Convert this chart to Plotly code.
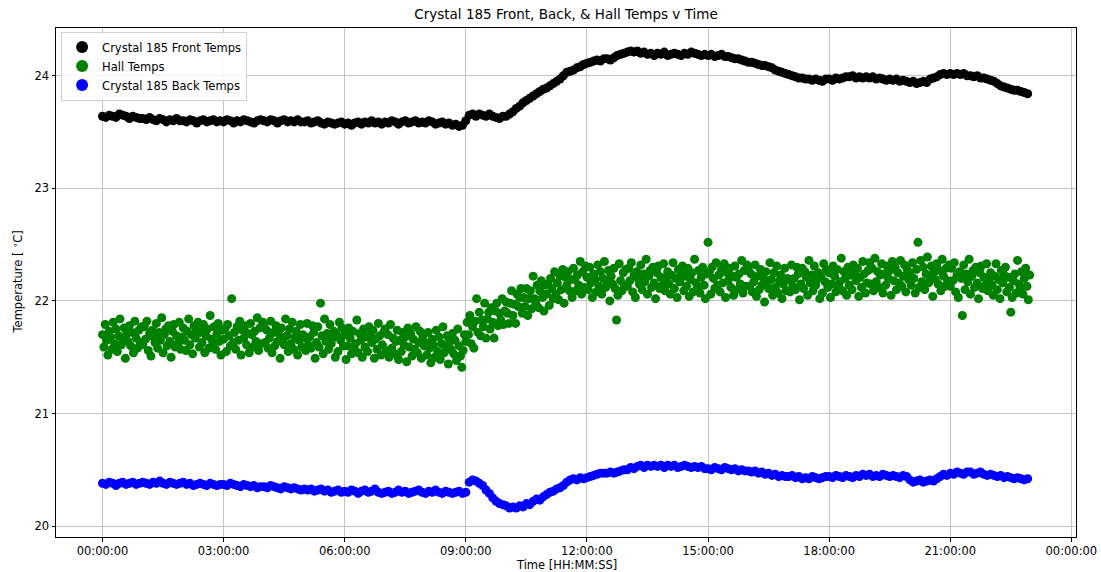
import pandas as pd
import plotly.graph_objects as go

# ---------------- data ----------------
front_temps = [
    23.64, 23.63, 23.65, 23.64, 23.63, 23.66, 23.65, 23.64, 23.62, 23.64, 23.63, 23.62,
    23.62, 23.61, 23.63, 23.61, 23.60, 23.62, 23.61, 23.59, 23.61, 23.60, 23.62, 23.60,
    23.60, 23.59, 23.61, 23.60, 23.58, 23.60, 23.61, 23.59, 23.60, 23.61, 23.59, 23.60,
    23.59, 23.61, 23.60, 23.58, 23.60, 23.59, 23.61, 23.60, 23.59, 23.58, 23.60, 23.61,
    23.60, 23.59, 23.61, 23.60, 23.58, 23.60, 23.61, 23.59, 23.60, 23.59, 23.61, 23.59,
    23.59, 23.60, 23.58, 23.59, 23.60, 23.58, 23.57, 23.59, 23.58, 23.57, 23.58, 23.59,
    23.57, 23.58, 23.56, 23.58, 23.59, 23.57, 23.59, 23.58, 23.60, 23.58, 23.59, 23.57,
    23.59, 23.58, 23.60, 23.59, 23.57, 23.59, 23.60, 23.58, 23.59, 23.60, 23.58, 23.59,
    23.58, 23.60, 23.59, 23.57, 23.58, 23.59, 23.57, 23.58, 23.56, 23.57, 23.55, 23.56,
    23.60, 23.65, 23.66, 23.64, 23.66, 23.65, 23.64, 23.66, 23.64, 23.63, 23.62, 23.64,
    23.64, 23.66, 23.68, 23.71, 23.73, 23.76, 23.78, 23.80, 23.82, 23.84, 23.86, 23.88,
    23.89, 23.91, 23.93, 23.95, 23.97, 24.00, 24.03, 24.04, 24.05, 24.07, 24.08, 24.10,
    24.11, 24.12, 24.13, 24.14, 24.13, 24.15, 24.15, 24.14, 24.16, 24.18, 24.19, 24.20,
    24.21, 24.22, 24.21, 24.22, 24.20, 24.21, 24.19, 24.20, 24.18, 24.20, 24.19, 24.21,
    24.18, 24.19, 24.20, 24.19, 24.18, 24.20, 24.19, 24.21, 24.20, 24.19, 24.18, 24.19,
    24.18, 24.19, 24.17, 24.18, 24.19, 24.17, 24.17, 24.16, 24.15, 24.15, 24.14, 24.13,
    24.12, 24.12, 24.11, 24.10, 24.09, 24.09, 24.08, 24.07, 24.05, 24.04, 24.03, 24.02,
    24.01, 24.00, 23.99, 23.98, 23.98, 23.97, 23.97, 23.96, 23.97, 23.96, 23.95, 23.97,
    23.97, 23.96, 23.98, 23.97, 23.98, 23.99, 23.99, 24.00, 23.98, 23.99, 23.98, 23.99,
    23.98, 23.99, 23.97, 23.98, 23.97, 23.96, 23.97, 23.96, 23.97, 23.95, 23.96, 23.95,
    23.94, 23.95, 23.93, 23.94, 23.95, 23.94, 23.97, 23.98, 23.99, 24.01, 24.02, 24.01,
    24.02, 24.01, 24.02, 24.01, 24.02, 24.00, 24.00, 23.99, 24.00, 23.98, 23.98, 23.97,
    23.96, 23.95, 23.93, 23.91, 23.90, 23.89, 23.88, 23.87, 23.87, 23.86, 23.85, 23.84,
]

back_temps = [
    20.38, 20.37, 20.39, 20.38, 20.36, 20.38, 20.39, 20.37, 20.38, 20.39, 20.37, 20.38,
    20.39, 20.38, 20.37, 20.39, 20.38, 20.40, 20.38, 20.37, 20.39, 20.38, 20.37, 20.38,
    20.39, 20.37, 20.38, 20.36, 20.37, 20.38, 20.37, 20.36, 20.38, 20.37, 20.36, 20.37,
    20.37, 20.36, 20.38, 20.37, 20.36, 20.35, 20.37, 20.36, 20.35, 20.36, 20.34, 20.35,
    20.35, 20.34, 20.36, 20.35, 20.34, 20.33, 20.35, 20.34, 20.33, 20.34, 20.33, 20.32,
    20.33, 20.32, 20.33, 20.31, 20.32, 20.33, 20.31, 20.32, 20.30, 20.31, 20.32, 20.30,
    20.31, 20.30, 20.32, 20.31, 20.29, 20.31, 20.32, 20.30, 20.31, 20.33, 20.30, 20.29,
    20.30, 20.31, 20.29, 20.30, 20.32, 20.30, 20.31, 20.29, 20.30, 20.31, 20.32, 20.30,
    20.29, 20.31, 20.30, 20.32, 20.30, 20.29, 20.31, 20.30, 20.29, 20.30, 20.31, 20.29,
    20.30, 20.39, 20.41, 20.40, 20.38, 20.36, 20.32, 20.29, 20.25, 20.22, 20.20, 20.19,
    20.18, 20.16, 20.17, 20.16, 20.18, 20.17, 20.20, 20.19, 20.22, 20.24, 20.23, 20.26,
    20.28, 20.30, 20.31, 20.33, 20.34, 20.36, 20.39, 20.41, 20.42, 20.41, 20.43, 20.42,
    20.43, 20.44, 20.45, 20.46, 20.47, 20.47, 20.47, 20.48, 20.47, 20.48, 20.49, 20.50,
    20.50, 20.52, 20.51, 20.53, 20.54, 20.52, 20.54, 20.53, 20.54, 20.53, 20.54, 20.52,
    20.54, 20.53, 20.54, 20.52, 20.53, 20.54, 20.53, 20.52, 20.53, 20.52, 20.53, 20.51,
    20.51, 20.50, 20.52, 20.51, 20.50, 20.52, 20.51, 20.50, 20.51, 20.49, 20.50, 20.49,
    20.49, 20.48, 20.49, 20.47, 20.48, 20.46, 20.47, 20.45, 20.46, 20.44, 20.45, 20.44,
    20.44, 20.45, 20.43, 20.44, 20.42, 20.43, 20.42, 20.44, 20.43, 20.42, 20.43, 20.44,
    20.44, 20.43, 20.45, 20.44, 20.43, 20.45, 20.44, 20.43, 20.45, 20.44, 20.46, 20.45,
    20.46, 20.44, 20.45, 20.44, 20.46, 20.45, 20.44, 20.45, 20.44, 20.43, 20.45, 20.44,
    20.41, 20.39, 20.40, 20.41, 20.39, 20.40, 20.41, 20.40, 20.42, 20.44, 20.46, 20.45,
    20.47, 20.46, 20.48, 20.47, 20.46, 20.48, 20.48, 20.46, 20.47, 20.48, 20.46, 20.45,
    20.46, 20.45, 20.44, 20.45, 20.43, 20.44, 20.43, 20.42, 20.43, 20.42, 20.41, 20.42,
]

hall_temps = [
    21.70, 21.59, 21.79, 21.65, 21.52, 21.73, 21.68, 21.57, 21.81, 21.62, 21.75, 21.55, 21.69, 21.84, 21.61,
    21.66, 21.76, 21.49, 21.71, 21.64, 21.78, 21.60, 21.72, 21.54, 21.82, 21.67, 21.58, 21.74, 21.63, 21.77,
    21.61, 21.77, 21.66, 21.82, 21.56, 21.71, 21.51, 21.74, 21.68, 21.63, 21.80, 21.58, 21.72, 21.65, 21.85,
    21.54, 21.70, 21.75, 21.60, 21.78, 21.64, 21.50, 21.73, 21.79, 21.59, 21.69, 21.62, 21.81, 21.57, 21.68,
    21.76, 21.65, 21.56, 21.73, 21.84, 21.61, 21.70, 21.53, 21.78, 21.67, 21.74, 21.81, 21.59, 21.72, 21.63,
    21.79, 21.54, 21.69, 21.75, 21.58, 21.87, 21.66, 21.62, 21.77, 21.57, 21.71, 21.80, 21.64, 21.52, 21.74,
    21.66, 21.75, 21.55, 21.79, 21.69, 21.60, 22.02, 21.63, 21.72, 21.57, 21.77, 21.65, 21.82, 21.52, 21.74,
    21.67, 21.78, 21.61, 21.71, 21.54, 21.80, 21.70, 21.59, 21.73, 21.64, 21.85, 21.56, 21.76, 21.62, 21.81,
    21.77, 21.63, 21.74, 21.58, 21.67, 21.82, 21.54, 21.72, 21.60, 21.78, 21.64, 21.71, 21.49, 21.76, 21.66,
    21.61, 21.84, 21.69, 21.55, 21.75, 21.62, 21.81, 21.57, 21.68, 21.73, 21.52, 21.65, 21.79, 21.59, 21.70,
    21.67, 21.56, 21.80, 21.61, 21.68, 21.58, 21.78, 21.72, 21.49, 21.63, 21.77, 21.59, 21.98, 21.69, 21.53,
    21.84, 21.64, 21.71, 21.57, 21.79, 21.62, 21.67, 21.73, 21.50, 21.70, 21.55, 21.81, 21.65, 21.76, 21.60,
    21.70, 21.48, 21.60, 21.76, 21.67, 21.53, 21.73, 21.58, 21.62, 21.83, 21.54, 21.71, 21.65, 21.50, 21.75,
    21.59, 21.68, 21.55, 21.77, 21.70, 21.63, 21.74, 21.49, 21.66, 21.57, 21.80, 21.69, 21.52, 21.61, 21.72,
    21.75, 21.56, 21.70, 21.50, 21.79, 21.58, 21.67, 21.53, 21.64, 21.74, 21.48, 21.65, 21.55, 21.72, 21.61,
    21.68, 21.46, 21.76, 21.59, 21.71, 21.51, 21.66, 21.57, 21.77, 21.54, 21.63, 21.73, 21.49, 21.69, 21.60,
    21.63, 21.52, 21.72, 21.58, 21.45, 21.66, 21.61, 21.50, 21.74, 21.55, 21.68, 21.48, 21.62, 21.77, 21.54,
    21.59, 21.69, 21.44, 21.64, 21.57, 21.71, 21.53, 21.65, 21.47, 21.75, 21.60, 21.51, 21.41, 21.56, 21.70,
    21.64, 21.81, 21.70, 21.87, 21.62, 21.77, 21.58, 21.82, 22.02, 21.72, 21.90, 21.69, 21.83, 21.77, 21.98,
    21.67, 21.84, 21.90, 21.75, 21.94, 21.81, 21.67, 21.91, 21.98, 21.78, 21.89, 21.83, 22.02, 21.79, 21.91,
    21.99, 21.89, 21.80, 21.98, 22.09, 21.87, 21.97, 21.80, 22.06, 21.95, 22.03, 22.11, 21.89, 22.03, 21.95,
    22.11, 21.87, 22.02, 22.09, 21.93, 22.22, 22.02, 21.98, 22.14, 21.94, 22.09, 22.18, 22.03, 21.91, 22.14,
    22.06, 22.15, 21.96, 22.20, 22.11, 22.02, 22.26, 22.06, 22.16, 22.01, 22.22, 22.10, 22.28, 21.98, 22.21,
    22.14, 22.26, 22.09, 22.19, 22.03, 22.29, 22.19, 22.09, 22.23, 22.14, 22.35, 22.06, 22.26, 22.12, 22.31,
    22.21, 22.10, 22.30, 22.16, 22.03, 22.24, 22.19, 22.08, 22.32, 22.13, 22.26, 22.06, 22.20, 22.35, 22.12,
    22.17, 22.27, 22.00, 22.22, 22.15, 22.29, 22.11, 21.83, 22.05, 22.33, 22.18, 22.09, 22.25, 22.14, 22.28,
    22.13, 22.29, 22.18, 22.34, 22.08, 22.23, 22.03, 22.26, 22.20, 22.15, 22.32, 22.10, 22.24, 22.17, 22.37,
    22.06, 22.22, 22.27, 22.12, 22.30, 22.16, 22.02, 22.25, 22.31, 22.11, 22.21, 22.14, 22.33, 22.09, 22.20,
    22.26, 22.15, 22.06, 22.23, 22.34, 22.11, 22.20, 22.03, 22.28, 22.17, 22.24, 22.31, 22.09, 22.22, 22.13,
    22.29, 22.04, 22.19, 22.25, 22.08, 22.37, 22.16, 22.12, 22.27, 22.07, 22.21, 22.30, 22.14, 22.02, 22.24,
    22.52, 22.26, 22.06, 22.30, 22.20, 22.11, 22.34, 22.14, 22.23, 22.08, 22.28, 22.16, 22.33, 22.03, 22.25,
    22.18, 22.29, 22.12, 22.22, 22.05, 22.31, 22.21, 22.10, 22.24, 22.15, 22.36, 22.07, 22.27, 22.13, 22.32,
    22.27, 22.13, 22.24, 22.08, 22.17, 22.32, 22.04, 22.22, 22.10, 22.28, 22.14, 22.21, 21.99, 22.26, 22.16,
    22.11, 22.34, 22.19, 22.05, 22.25, 22.12, 22.31, 22.07, 22.18, 22.23, 22.02, 22.15, 22.29, 22.09, 22.20,
    22.19, 22.08, 22.32, 22.13, 22.20, 22.10, 22.30, 22.24, 22.01, 22.15, 22.29, 22.11, 22.26, 22.21, 22.05,
    22.36, 22.16, 22.23, 22.09, 22.31, 22.14, 22.19, 22.25, 22.02, 22.22, 22.07, 22.33, 22.17, 22.28, 22.12,
    22.25, 22.03, 22.15, 22.31, 22.22, 22.08, 22.28, 22.13, 22.17, 22.38, 22.09, 22.26, 22.20, 22.05, 22.30,
    22.14, 22.23, 22.10, 22.32, 22.25, 22.18, 22.29, 22.04, 22.21, 22.12, 22.35, 22.24, 22.07, 22.16, 22.27,
    22.34, 22.15, 22.29, 22.09, 22.38, 22.17, 22.26, 22.12, 22.23, 22.33, 22.07, 22.24, 22.14, 22.31, 22.20,
    22.27, 22.05, 22.35, 22.18, 22.30, 22.10, 22.25, 22.16, 22.36, 22.13, 22.22, 22.32, 22.08, 22.28, 22.19,
    22.25, 22.14, 22.34, 22.20, 22.07, 22.28, 22.52, 22.12, 22.36, 22.17, 22.30, 22.10, 22.24, 22.39, 22.16,
    22.21, 22.31, 22.04, 22.26, 22.19, 22.33, 22.15, 22.27, 22.09, 22.37, 22.22, 22.13, 22.29, 22.18, 22.32,
    22.13, 22.29, 22.18, 22.34, 22.08, 22.23, 22.03, 22.26, 22.20, 21.87, 22.32, 22.10, 22.24, 22.17, 22.37,
    22.06, 22.22, 22.27, 22.12, 22.30, 22.16, 22.02, 22.25, 22.31, 22.11, 22.21, 22.14, 22.33, 22.09, 22.20,
    22.25, 22.14, 22.05, 22.22, 22.33, 22.10, 22.19, 22.02, 22.27, 22.16, 22.23, 22.30, 22.08, 22.21, 22.12,
    21.90, 22.03, 22.18, 22.24, 22.07, 22.36, 22.15, 22.11, 22.26, 22.06, 22.20, 22.29, 22.13, 22.01, 22.23,
]

start_time = "2024-01-01 00:00:00"
crystal_step = "5min"   # sampling interval of the crystal sensors
hall_step = "2min"      # sampling interval of the hall sensor

series_names = ["Crystal 185 Front Temps", "Hall Temps", "Crystal 185 Back Temps"]
tick_labels_fmt = "%H:%M:%S"

# ---------------- figure ----------------
t_crystal = pd.date_range(start_time, periods=len(front_temps), freq=crystal_step)
t_hall = pd.date_range(start_time, periods=len(hall_temps), freq=hall_step)

fig = go.Figure()
fig.add_trace(go.Scatter(x=t_crystal, y=front_temps, mode="markers", name=series_names[0],
                         marker=dict(color="black", size=9, line=dict(width=0))))
fig.add_trace(go.Scatter(x=t_hall, y=hall_temps, mode="markers", name=series_names[1],
                         marker=dict(color="green", size=9, line=dict(width=0))))
fig.add_trace(go.Scatter(x=t_crystal, y=back_temps, mode="markers", name=series_names[2],
                         marker=dict(color="blue", size=9, line=dict(width=0))))

t0 = pd.Timestamp(start_time)
x_range = [t0 - pd.Timedelta(hours=1.152), t0 + pd.Timedelta(hours=24.115)]

font_family = "DejaVu Sans, Arial, sans-serif"
axis_common = dict(showline=True, linecolor="black", linewidth=1, mirror=True,
                   ticks="outside", ticklen=3.5, tickcolor="black", automargin=False,
                   showgrid=True, gridcolor="#c4c4c4", gridwidth=1, zeroline=False,
                   tickfont=dict(size=11.5, color="black", family=font_family))

fig.update_layout(
    width=1101, height=572,
    margin=dict(l=56, r=25, t=28, b=35),
    paper_bgcolor="white", plot_bgcolor="white",
    font=dict(family=font_family, color="black"),
    title=dict(text="Crystal 185 Front, Back, & Hall Temps v Time", x=0.5, xref="paper",
               y=1 - 14 / 572, yanchor="middle", yref="container",
               font=dict(size=13.5, color="black")),
    showlegend=True,
    legend=dict(x=0.005, y=0.993, xanchor="left", yanchor="top",
                bgcolor="rgba(255,255,255,0.85)", bordercolor="#d0d0d0", borderwidth=1,
                font=dict(size=11.5, color="black"), itemsizing="constant",
                tracegroupgap=0),
    xaxis=dict(type="date", range=x_range, tickformat=tick_labels_fmt,
               tick0=start_time, dtick=3 * 3600 * 1000, **axis_common),
    yaxis=dict(range=[19.903, 24.424], dtick=1, **axis_common),
    annotations=[
        dict(text="Time [HH:MM:SS]", xref="paper", yref="paper", x=0.5, y=-27.5 / 509,
             xanchor="center", yanchor="middle", showarrow=False,
             font=dict(size=11.5, color="black")),
        dict(text="Temperature [ <sup>∘</sup>C]", xref="paper", yref="paper",
             x=-38 / 1020, y=0.5, xanchor="center", yanchor="middle", textangle=-90,
             showarrow=False, font=dict(size=11.5, color="black")),
    ],
)

fig.write_html("out.html", config={"displayModeBar": False},
               post_script="document.body.style.margin='0';document.body.style.overflow='hidden';")
